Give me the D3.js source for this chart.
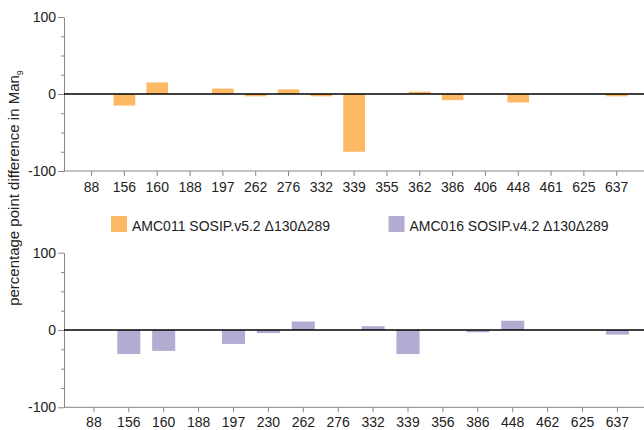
<!DOCTYPE html>
<html>
<head>
<meta charset="utf-8">
<script src="https://cdn.jsdelivr.net/npm/d3@7"></script>
<style>
  body { margin: 0; background: #fff; }
  text { font-family: "Liberation Sans", Arial, sans-serif; }
</style>
</head>
<body>
<script>
// sites and values
const topSites = ["88", "156", "160", "188", "197", "262", "276", "332", "339",
                  "355", "362", "386", "406", "448", "461", "625", "637"];
const topValues = [0, -15, 15, 0, 7, -3, 6, -3, -75, 0, 3, -8, 0, -11, 0, 0, -3];

const bottomSites = ["88", "156", "160", "188", "197", "230", "262", "276", "332",
                     "339", "356", "386", "448", "462", "625", "637"];
const bottomValues = [0, -31, -27, 0, -18, -4, 11, 0, 5, -31, 0, -3, 12, 0, 0, -6];

const seriesNames = ["AMC011 SOSIP.v5.2 \u0394130\u0394289", "AMC016 SOSIP.v4.2 \u0394130\u0394289"];
const seriesColors = ["#fdb863", "#b2abd2"];

const yTicks = [-100, 0, 100];
const yMinorTicks = [-75, -50, -25, 25, 50, 75];

const width = 644;
const height = 430;
const axisX = 64;

const svg = d3.select("body")
    .append("svg")
    .attr("width", width)
    .attr("height", height);

function panel(sites, values, color, xRange, yRange, labelPad) {
    const x = d3.scaleBand()
        .domain(sites)
        .range(xRange)
        .padding(0.34);
    const y = d3.scaleLinear()
        .domain([-100, 100])
        .range(yRange);

    const g = svg.append("g");

    // bars
    g.selectAll("rect.bar")
        .data(sites.map((s, i) => ({site: s, value: values[i]})).filter(d => d.value !== 0))
      .enter().append("rect")
        .attr("class", "bar")
        .attr("x", d => x(d.site))
        .attr("width", x.bandwidth())
        .attr("y", d => y(Math.max(0, d.value)))
        .attr("height", d => Math.abs(y(d.value) - y(0)))
        .style("fill", color);

    // minor y ticks
    g.append("g")
        .attr("transform", `translate(${axisX},0)`)
        .call(d3.axisLeft(y).tickValues(yMinorTicks).tickSize(3).tickFormat(""))
        .call(a => a.select(".domain").remove())
        .call(a => a.selectAll("line").attr("stroke", "#888"));

    // major y axis
    g.append("g")
        .attr("transform", `translate(${axisX},0)`)
        .call(d3.axisLeft(y).tickValues(yTicks).tickSize(6).tickSizeOuter(0).tickPadding(2))
        .call(a => a.select(".domain").attr("stroke", "#888"))
        .call(a => a.selectAll("line").attr("stroke", "#888"))
        .call(a => a.selectAll("text")
            .style("font-size", "14px")
            .attr("fill", "#222")
            .text(d => d < 0 ? "-" + Math.abs(d) : d));

    // x axis
    const xa = g.append("g")
        .attr("transform", `translate(0,${y(-100)})`)
        .call(d3.axisBottom(x).tickSize(5).tickPadding(labelPad))
        .call(a => a.select(".domain").remove())
        .call(a => a.selectAll("line").attr("stroke", "#888"))
        .call(a => a.selectAll("text")
            .style("font-size", "14px")
            .attr("fill", "#222"));
    xa.append("line")
        .attr("x1", axisX).attr("x2", width)
        .attr("stroke", "#888");

    // zero line
    g.append("line")
        .attr("x1", axisX).attr("x2", width)
        .attr("y1", y(0)).attr("y2", y(0))
        .attr("stroke", "#000")
        .attr("stroke-width", 1.5);
}

panel(topSites, topValues, seriesColors[0], [69.6, 638.7], [171, 17], 6);
panel(bottomSites, bottomValues, seriesColors[1], [70.5, 640.8], [407.3, 252.7], 4.5);

// legend
const legendX = [111, 388.5];
seriesNames.forEach(function(name, i) {
    svg.append("rect")
        .attr("x", legendX[i]).attr("y", 216)
        .attr("width", 16).attr("height", 16)
        .style("fill", seriesColors[i]);
    svg.append("text")
        .attr("x", legendX[i] + 21).attr("y", 231)
        .style("font-size", "14px")
        .attr("fill", "#222")
        .text(name);
});

// y label
const ylab = svg.append("text")
    .attr("transform", "translate(19,188) rotate(-90)")
    .attr("text-anchor", "middle")
    .style("font-size", "15px")
    .attr("fill", "#222");
ylab.append("tspan").text("percentage point difference in Man");
ylab.append("tspan").attr("dy", 4).style("font-size", "9px").text("9");
</script>
</body>
</html>
